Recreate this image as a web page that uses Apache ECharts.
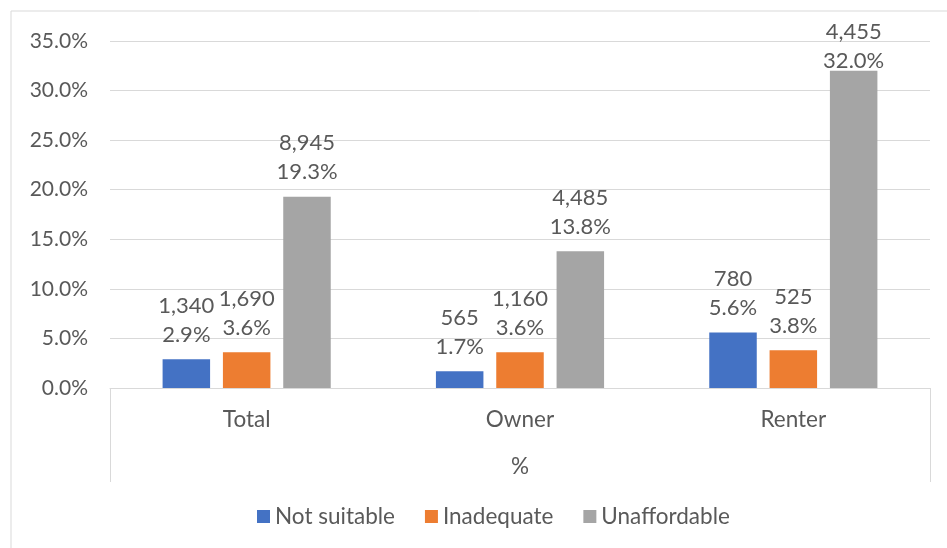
<!DOCTYPE html>
<html>
<head>
<meta charset="utf-8">
<script src="https://cdn.jsdelivr.net/npm/echarts@6/dist/echarts.min.js"></script>
<style>
html,body{margin:0;padding:0;background:#fff;}
#chart{width:947px;height:548px;}
</style>
</head>
<body>
<div id="chart"></div>
<script>
var categories = ['Total', 'Owner', 'Renter'];
var groupLabel = ['%'];
var seriesNames = ['Not suitable', 'Inadequate', 'Unaffordable'];
var notSuitablePct = [2.9, 1.7, 5.6];
var notSuitableCount = ['1,340', '565', '780'];
var inadequatePct = [3.6, 3.6, 3.8];
var inadequateCount = ['1,690', '1,160', '525'];
var unaffordablePct = [19.3, 13.8, 32.0];
var unaffordableCount = ['8,945', '4,485', '4,455'];
var yTicks = [0, 5, 10, 15, 20, 25, 30, 35];

var FONT = 'Lato';
var TXT = '#595959';
var colors = ['#4472C4', '#ED7D31', '#A5A5A5'];
var Y_MAX = yTicks[yTicks.length - 1];

function mkSeries(name, pct, cnt, color) {
  return {
    name: name,
    type: 'bar',
    data: pct.map(function (v) {
      // labels near the top of the plot are pushed down to stay inside the chart area
      return v > Y_MAX - 4 ? {value: v, label: {distance: -5}} : v;
    }),
    barWidth: 47.5,
    barGap: '27%',
    itemStyle: {color: color},
    label: {
      show: true,
      position: 'top',
      distance: 10,
      color: TXT,
      fontFamily: FONT,
      fontSize: 22,
      lineHeight: 29,
      formatter: function (p) {
        return cnt[p.dataIndex] + '\n' + p.value.toFixed(1) + '%';
      }
    }
  };
}

var chart = echarts.init(document.getElementById('chart'));
chart.setOption({
  animation: false,
  backgroundColor: '#fff',
  graphic: [{
    type: 'rect',
    shape: {x: 11, y: 11, width: 1000, height: 1000},
    style: {fill: 'none', stroke: '#D9D9D9', lineWidth: 1}
  }],
  grid: {left: 110, right: 17, top: 41, bottom: 160},
  legend: {
    data: seriesNames,
    bottom: 15,
    left: 252,
    itemWidth: 13,
    itemHeight: 13,
    itemGap: 30,
    icon: 'rect',
    textStyle: {color: TXT, fontFamily: FONT, fontSize: 22.5}
  },
  xAxis: [{
    type: 'category',
    data: categories,
    axisLine: {lineStyle: {color: '#D9D9D9', width: 1}},
    axisTick: {show: false},
    axisLabel: {color: TXT, fontFamily: FONT, fontSize: 22.5, margin: 20}
  }, {
    type: 'category',
    data: groupLabel,
    position: 'bottom',
    axisLine: {show: false},
    axisTick: {show: true, length: 94, lineStyle: {color: '#D9D9D9', width: 1}},
    axisLabel: {color: TXT, fontFamily: FONT, fontSize: 22.5, margin: 67}
  }],
  yAxis: {
    type: 'value',
    min: yTicks[0],
    max: Y_MAX,
    interval: yTicks[1] - yTicks[0],
    axisLine: {show: false},
    axisTick: {show: false},
    splitLine: {lineStyle: {color: '#D9D9D9', width: 1}},
    axisLabel: {
      color: TXT, fontFamily: FONT, fontSize: 21, margin: 22,
      formatter: function (v) { return v.toFixed(1) + '%'; }
    }
  },
  series: [
    mkSeries(seriesNames[0], notSuitablePct, notSuitableCount, colors[0]),
    mkSeries(seriesNames[1], inadequatePct, inadequateCount, colors[1]),
    mkSeries(seriesNames[2], unaffordablePct, unaffordableCount, colors[2])
  ]
});
</script>
</body>
</html>
